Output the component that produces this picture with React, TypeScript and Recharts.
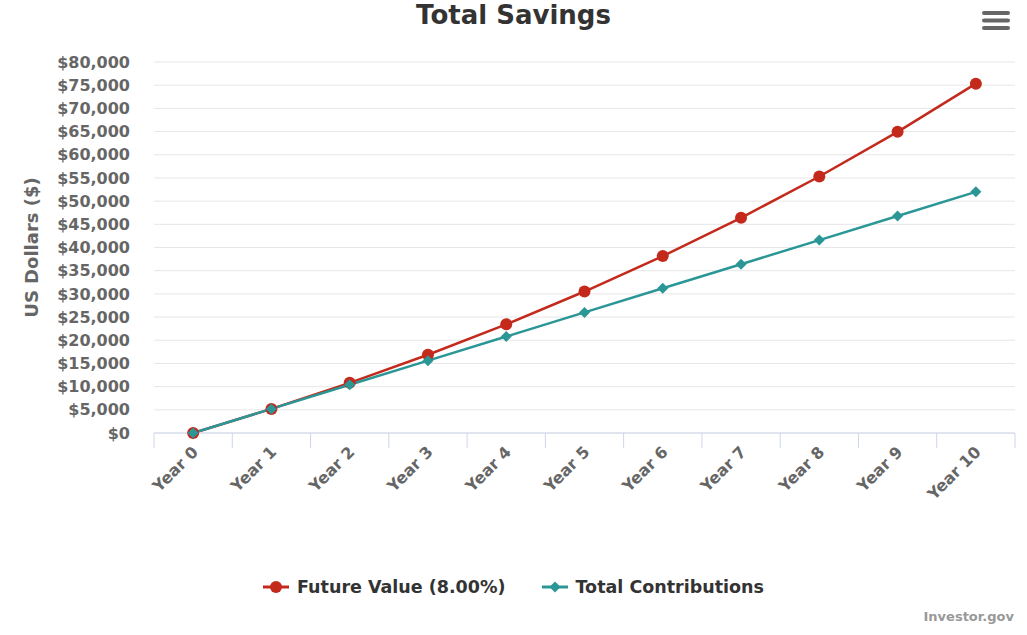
import React from "react";
import { LineChart, Line, XAxis, YAxis, CartesianGrid } from "recharts";

const years = [
  "Year 0", "Year 1", "Year 2", "Year 3", "Year 4", "Year 5",
  "Year 6", "Year 7", "Year 8", "Year 9", "Year 10",
];
const futureValue = [0, 5200, 10816, 16881, 23432, 30507, 38147, 46399, 55311, 64936, 75331];
const contributions = [0, 5200, 10400, 15600, 20800, 26000, 31200, 36400, 41600, 46800, 52000];
const yTicks = [
  0, 5000, 10000, 15000, 20000, 25000, 30000, 35000, 40000,
  45000, 50000, 55000, 60000, 65000, 70000, 75000, 80000,
];

const W = 1027;
const H = 635;
const X_AXIS_H = 30;
const MARGIN = { top: 62, right: 12, bottom: 202 - X_AXIS_H, left: 0 };
const Y_AXIS_W = 154;
const PLOT_W = W - MARGIN.left - MARGIN.right - Y_AXIS_W;
const STEP = PLOT_W / years.length;

const RED = "#c42a1c";
const TEAL = "#2b9696";
const FONT = "'DejaVu Sans', sans-serif";
const AXIS_COLOR = "#ccd6eb";

const data = years.map((year, i) => ({
  year,
  fv: futureValue[i],
  tc: contributions[i],
}));

const fmtDollar = (v: number) => "$" + v.toLocaleString("en-US");

function XTick(props: any) {
  const { x, y, payload, index } = props;
  const lx = x + 6;
  const ly = y + 20;
  return (
    <g>
      <line x1={x - STEP / 2} x2={x - STEP / 2} y1={y} y2={y + 15} stroke={AXIS_COLOR} strokeWidth={1} />
      {index === years.length - 1 && (
        <line x1={x + STEP / 2} x2={x + STEP / 2} y1={y} y2={y + 15} stroke={AXIS_COLOR} strokeWidth={1} />
      )}
      <text
        x={lx}
        y={ly}
        textAnchor="end"
        transform={`rotate(-45, ${lx}, ${ly})`}
        fill="#666"
        fontSize={16}
        fontWeight="bold"
        fontFamily={FONT}
      >
        {payload.value}
      </text>
    </g>
  );
}

function Diamond(props: any) {
  const { cx, cy, index } = props;
  if (cx == null || cy == null) return <g key={`d-${index}`} />;
  const r = 5.5;
  return (
    <path
      key={`d-${index}`}
      d={`M${cx},${cy - r} L${cx + r},${cy} L${cx},${cy + r} L${cx - r},${cy} Z`}
      fill={TEAL}
    />
  );
}

function YLabel(props: any) {
  const { viewBox } = props;
  const x = 38;
  const y = viewBox.y + viewBox.height / 2;
  return (
    <text
      x={x}
      y={y}
      textAnchor="middle"
      transform={`rotate(-90, ${x}, ${y})`}
      fill="#666"
      fontSize={18}
      fontWeight="bold"
      fontFamily={FONT}
    >
      US Dollars ($)
    </text>
  );
}

function LegendItem({ color, label, diamond }: { color: string; label: string; diamond?: boolean }) {
  return (
    <div style={{ display: "flex", alignItems: "center", gap: 8 }}>
      <svg width={26} height={14}>
        <line x1={0} x2={26} y1={7} y2={7} stroke={color} strokeWidth={3} />
        {diamond ? (
          <path d="M13,1.5 L18.5,7 L13,12.5 L7.5,7 Z" fill={color} />
        ) : (
          <circle cx={13} cy={7} r={6} fill={color} />
        )}
      </svg>
      <span style={{ fontSize: 17.5, fontWeight: "bold", color: "#333" }}>{label}</span>
    </div>
  );
}

export default function App() {
  return (
    <div
      style={{
        position: "absolute",
        left: 0,
        top: 0,
        width: W,
        height: H,
        background: "#fff",
        fontFamily: FONT,
        overflow: "hidden",
      }}
    >
      <div
        style={{
          position: "absolute",
          top: 0,
          left: 0,
          width: W,
          textAlign: "center",
          fontSize: 26,
          lineHeight: "30px",
          fontWeight: "bold",
          color: "#333",
        }}
      >
        Total Savings
      </div>
      <svg style={{ position: "absolute", left: 982, top: 10 }} width={29} height={22}>
        {[3, 10.5, 18].map((y) => (
          <rect key={y} x={0} y={y - 2} width={28} height={4} rx={2} fill="#666" />
        ))}
      </svg>

      <LineChart width={W} height={H} data={data} margin={MARGIN}>
        <CartesianGrid vertical={false} stroke="#e6e6e6" strokeWidth={1} />
        <XAxis
          dataKey="year"
          type="category"
          height={X_AXIS_H}
          padding={{ left: STEP / 2, right: STEP / 2 }}
          tickLine={false}
          tickSize={0}
          tickMargin={0}
          stroke={AXIS_COLOR}
          interval={0}
          tick={<XTick />}
        />
        <YAxis
          width={Y_AXIS_W}
          domain={[0, 80000]}
          ticks={yTicks}
          interval={0}
          tickFormatter={fmtDollar}
          axisLine={false}
          tickLine={false}
          tickSize={0}
          tickMargin={24}
          tick={{ fill: "#666", fontSize: 16, fontWeight: "bold", fontFamily: FONT }}
          label={<YLabel />}
        />
        <Line
          dataKey="fv"
          name="Future Value (8.00%)"
          stroke={RED}
          strokeWidth={2.5}
          dot={{ r: 6, fill: RED, stroke: RED, strokeWidth: 0 }}
          activeDot={false}
          isAnimationActive={false}
        />
        <Line
          dataKey="tc"
          name="Total Contributions"
          stroke={TEAL}
          strokeWidth={2.5}
          dot={(p: any) => <Diamond {...p} key={`d-${p.index}`} />}
          activeDot={false}
          isAnimationActive={false}
        />
      </LineChart>

      <div
        style={{
          position: "absolute",
          top: 577,
          left: 0,
          width: W,
          display: "flex",
          justifyContent: "center",
          gap: 36,
        }}
      >
        <LegendItem color={RED} label="Future Value (8.00%)" />
        <LegendItem color={TEAL} label="Total Contributions" diamond />
      </div>

      <div
        style={{
          position: "absolute",
          top: 609,
          right: 13,
          fontSize: 13,
          fontWeight: "bold",
          color: "#999",
        }}
      >
        Investor.gov
      </div>
    </div>
  );
}
